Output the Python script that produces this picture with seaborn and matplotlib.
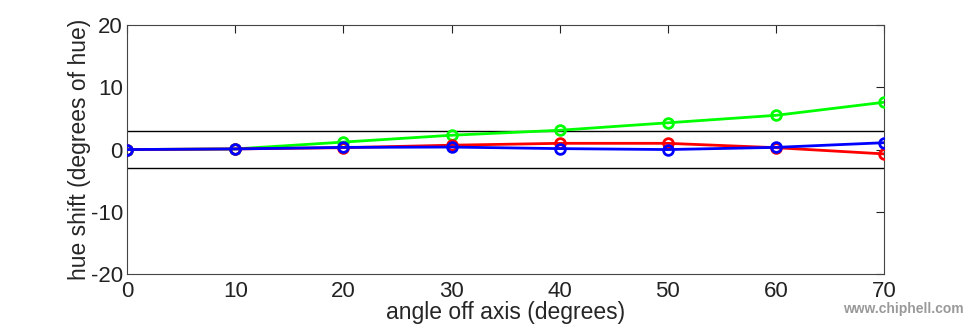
import matplotlib
matplotlib.use("Agg")
import matplotlib.pyplot as plt
import seaborn as sns
import pandas as pd

angles = [0, 10, 20, 30, 40, 50, 60, 70]
green_shift = [0.0, 0.1, 1.2, 2.3, 3.1, 4.3, 5.5, 7.6]
red_shift = [0.0, 0.1, 0.3, 0.7, 1.0, 1.0, 0.3, -0.7]
blue_shift = [0.0, 0.1, 0.35, 0.4, 0.15, 0.0, 0.35, 1.1]
limits = [3, -3]
x_ticks = [0, 10, 20, 30, 40, 50, 60, 70]
y_ticks = [-20, -10, 0, 10, 20]

sns.set_style("white")
plt.rcParams['font.family'] = ['Liberation Sans', 'DejaVu Sans']
plt.rcParams['axes.unicode_minus'] = False

df = pd.concat([
    pd.DataFrame({"angle": angles, "shift": green_shift, "channel": "green"}),
    pd.DataFrame({"angle": angles, "shift": red_shift, "channel": "red"}),
    pd.DataFrame({"angle": angles, "shift": blue_shift, "channel": "blue"}),
])

fig = plt.figure(figsize=(9.78, 3.26), dpi=100)
ax = fig.add_axes([0.130, 0.1595, 0.774, 0.7635])

for lim in limits:
    ax.axhline(lim, color="black", lw=1.0, zorder=1)

sns.lineplot(data=df, x="angle", y="shift", hue="channel",
             palette={"green": "#00ff00", "red": "#ff0000", "blue": "#0000ff"},
             marker="o", markersize=7, markerfacecolor="none", markeredgewidth=2.0,
             linewidth=2.0, legend=False, ax=ax, zorder=3)

for c, line in zip(["#00ff00", "#ff0000", "#0000ff"], ax.get_lines()[len(limits):]):
    line.set_markeredgecolor(c)

ax.set_xlim(0, 70)
ax.set_ylim(-20, 20)
ax.set_xticks(x_ticks)
ax.set_yticks(y_ticks)
ax.tick_params(direction="in", length=6, width=0.8, colors="#222222",
               labelsize=16, top=True, right=True)
ax.tick_params(axis="x", pad=5)
ax.tick_params(axis="y", pad=3)
for s in ax.spines.values():
    s.set_color("#444444")
    s.set_linewidth(0.8)
ax.set_xlabel("angle off axis (degrees)", fontsize=16.5, labelpad=-1)
ax.set_ylabel("hue shift (degrees of hue)", fontsize=16.5, labelpad=0)

fig.text(0.985, 0.03, "www.chiphell.com", color="#999999", fontsize=10,
         ha="right", va="bottom", fontweight="bold")

fig.savefig("out.png", dpi=100)
